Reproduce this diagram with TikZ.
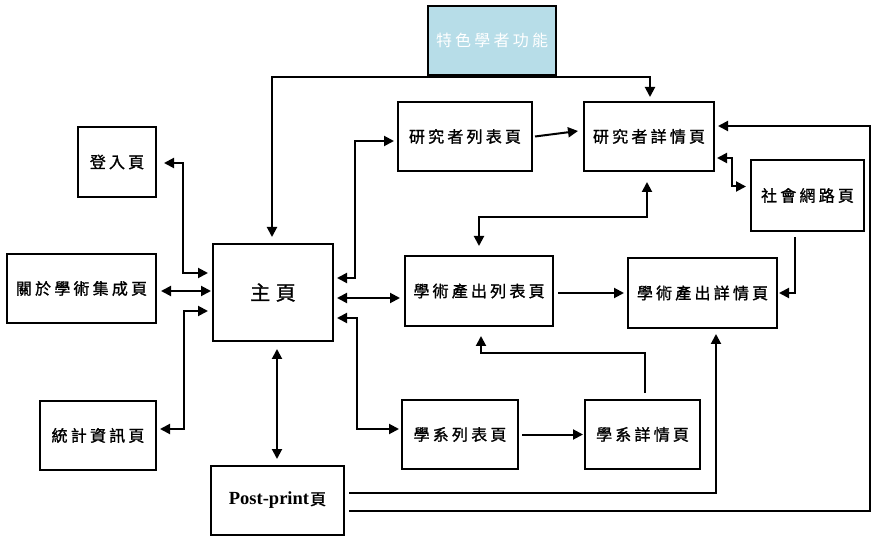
\documentclass[tikz,border=0pt]{standalone}
\usepackage{fontspec}
\setmainfont{Liberation Serif}
\newfontfamily\cjk[LetterSpace=20,FakeBold=1.2]{Noto Sans CJK TC}
\newfontfamily\cjkplain[LetterSpace=20]{Noto Sans CJK TC}
\usetikzlibrary{arrows.meta,calc}
\definecolor{featblue}{RGB}{183,221,232}
\tikzset{
  box/.style={draw, line width=2.5pt, inner sep=0pt, outer sep=0pt, fill=white,
    font=\cjk\fontsize{16}{19}\selectfont},
  conn/.style={line width=2pt},
  arr/.style={conn, -{Triangle[length=10pt,width=10pt]}},
  dbl/.style={conn, {Triangle[length=10pt,width=10pt]}-{Triangle[length=10pt,width=10pt]}}
}
\begin{document}
\begin{tikzpicture}[x=1pt,y=-1pt]
\useasboundingbox (0,0) rectangle (873,537);
% nodes
\node[box, fill=featblue, text=white, minimum width=128, minimum height=69, font=\cjkplain\fontsize{16}{19}\selectfont] (feat) at (492,40.5) {特色學者功能};
\node[box, minimum width=78, minimum height=70] (login) at (117,162) {登入頁};
\node[box, minimum width=149, minimum height=69] (about) at (81.5,288.5) {關於學術集成頁};
\node[box, minimum width=120, minimum height=97, font=\cjk\fontsize{20}{24}\selectfont\addfontfeatures{LetterSpace=28}] (home) at (273,292.5) {主頁};
\node[box, minimum width=116, minimum height=69] (stats) at (98,435.5) {統計資訊頁};
\node[box, minimum width=133, minimum height=69] (pp) at (277.5,500.5) {{\rmfamily\bfseries\fontsize{18.5}{21}\selectfont Post-print}\hspace{1pt}頁};
\node[box, minimum width=134, minimum height=69] (rlist) at (465,136.5) {研究者列表頁};
\node[box, minimum width=130, minimum height=69] (rd) at (649,136.5) {研究者詳情頁};
\node[box, minimum width=113, minimum height=71] (social) at (807.5,195.5) {社會網路頁};
\node[box, minimum width=148, minimum height=70] (olist) at (479,291) {學術產出列表頁};
\node[box, minimum width=149, minimum height=70] (od) at (702.5,293) {學術產出詳情頁};
\node[box, minimum width=116, minimum height=69] (dlist) at (460,434.5) {學系列表頁};
\node[box, minimum width=115, minimum height=69] (dd) at (642.5,434.5) {學系詳情頁};
\coordinate (rail) at (870,511);
% connectors
\draw[arr] ($(feat.south)+(0,2)$) -| ($(home.north)+(-1,-7)$);
\draw[arr] ($(feat.south)+(0,2)$) -| ($(rd.north)+(1,-5)$);
\draw[dbl] ($(login.east)+(8,1)$) -- ++(19,0) |- ($(home.west)+(-5,-19.5)$);
\draw[dbl] ($(about.east)+(5,2.5)$) -- ($(home.west)+(-2,-1.5)$);
\draw[dbl] ($(stats.east)+(4,-6.5)$) -- ++(24,0) |- ($(home.west)+(-5,18.5)$);
\draw[dbl] ($(home.south)+(4,8)$) -- ($(pp.north)+(-0.5,-7)$);
\draw[dbl] ($(home.east)+(4,-14.5)$) -- ++(18,0) |- ($(rlist.west)+(-4,4.5)$);
\draw[dbl] ($(home.east)+(4,5.5)$) -- ($(olist.west)+(-5,7)$);
\draw[dbl] ($(home.east)+(4,25.5)$) -- ++(20,0) |- ($(dlist.west)+(-3,-5.5)$);
\draw[arr] ($(rlist.east)+(3,0)$) -- ($(rd.west)+(-6,-5.5)$);
\draw[dbl] ($(rd.south)+(-2,11)$) -- ++(0,35) -| ($(olist.north)+(0,-10)$);
\draw[dbl] ($(rd.east)+(3,21.5)$) -- ++(15,0) |- ($(social.west)+(-5,-9)$);
\draw[arr] ($(social.south)+(-12.5,6)$) |- ($(od.east)+(2,0)$);
\draw[arr] ($(olist.east)+(5,2)$) -- ($(od.west)+(-4,0)$);
\draw[arr] ($(dlist.east)+(4,0)$) -- ($(dd.west)+(-2,0)$);
\draw[arr] ($(dd.north)+(2,-7)$) -- ++(0,-40) -| ($(olist.south)+(2,10)$);
\draw[arr] ($(pp.east)+(5,-7.5)$) -| ($(od.south)+(13.5,6)$);
\draw[arr] ($(pp.east)+(5,10.5)$) -- (rail) |- ($(rd.east)+(4,-10.5)$);
\end{tikzpicture}
\end{document}
